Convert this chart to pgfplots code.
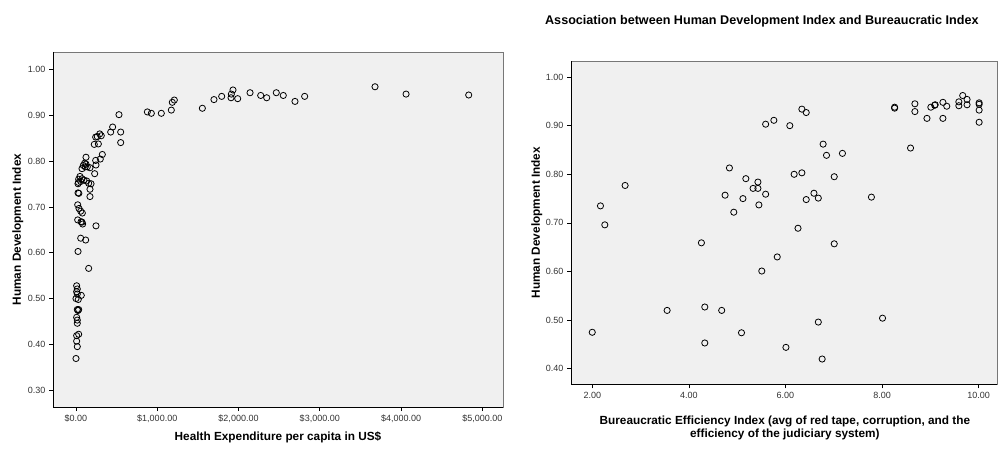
\documentclass[border=0pt]{standalone}
\usepackage{pgfplots}
\pgfplotsset{compat=1.18}
\usepackage{fontspec}
\setmainfont{Liberation Sans}
\definecolor{bgc}{HTML}{F0F0F0}
\definecolor{bord}{HTML}{777777}
\definecolor{tlab}{HTML}{333333}
\pgfplotsset{
  spssstyle/.style={
    scale only axis,
    axis background/.style={fill=bgc},
    axis line style={draw=bord, line width=0.8pt},
    tick align=outside,
    xtick pos=bottom, ytick pos=left,
    major tick length=4pt,
    every tick/.style={black, line width=0.7pt},
    tick label style={font=\fontsize{9}{10.5}\selectfont, text=tlab},
    label style={font=\fontsize{11.8}{13.5}\selectfont\bfseries},
    after end axis/.code={\draw[black, line width=0.9pt] (rel axis cs:0,1) -- (rel axis cs:0,0) -- (rel axis cs:1,0);},
    clip=false,
  },
  pts/.style={only marks, mark=o, black, mark size=3.1pt, mark options={line width=0.8pt}},
}
\begin{document}
\begin{tikzpicture}[x=1pt,y=1pt]
\useasboundingbox (0,0) rectangle (998,448);
% ---------- left ----------
\begin{axis}[spssstyle,
  at={(53pt,41pt)}, anchor=south west,
  width=450pt, height=355pt,
  xmin=-283, xmax=5255, ymin=0.263, ymax=1.039,
  xtick={0,1000,2000,3000,4000,5000},
  xticklabels={{\$0.00},{\$1,000.00},{\$2,000.00},{\$3,000.00},{\$4,000.00},{\$5,000.00}},
  ytick={0.3,0.4,0.5,0.6,0.7,0.8,0.9,1.0},
  yticklabels={0.30,0.40,0.50,0.60,0.70,0.80,0.90,1.00},
  xlabel={Health Expenditure per capita in US\$},
  ylabel={Human Development Index},
  xlabel style={at={(axis description cs:0.5,-0.0845)}, anchor=center},
  ylabel style={at={(axis description cs:-0.078,0.5)}, anchor=center, rotate=0},
]
\addplot[pts] coordinates {
(529,0.902) (878,0.908) (927,0.905) (1050,0.905) (1173,0.912) (1185,0.929) (1210,0.934)
(1555,0.916) (1698,0.935) (1793,0.942) (1908,0.939) (1932,0.956) (1912,0.947) (1990,0.937)
(2142,0.950) (2273,0.944) (2347,0.939) (2465,0.950) (2551,0.944) (2695,0.931) (2814,0.942)
(3680,0.963) (4062,0.947) (4833,0.945)
(427,0.864) (550,0.864) (451,0.875) (550,0.841)
(292,0.860) (242,0.853) (262,0.854) (311,0.856) (225,0.837) (275,0.838)
(324,0.815) (299,0.805) (242,0.802) (246,0.792) (123,0.809)
(107,0.796) (90,0.791) (123,0.794) (139,0.788) (74,0.784) (114,0.788) (172,0.786)
(230,0.773) (49,0.767) (33,0.761) (74,0.762) (98,0.759) (132,0.757) (185,0.751) (156,0.752) (58,0.756)
(25,0.751) (30,0.754) (172,0.739) (172,0.723) (25,0.731) (35,0.730)
(21,0.705) (37,0.697) (58,0.691) (78,0.687)
(21,0.672) (62,0.668) (82,0.663) (74,0.667) (246,0.659)
(58,0.632) (119,0.628) (25,0.603) (156,0.566)
(8,0.528) (16,0.521) (8,0.515) (0,0.500) (28,0.498) (65,0.507) (16,0.510)
(16,0.476) (33,0.476) (25,0.474)
(8,0.459) (16,0.453) (16,0.446)
(8,0.419) (33,0.422) (8,0.407) (16,0.395) (0,0.369)
};
\end{axis}
% ---------- right ----------
\begin{axis}[spssstyle,
  at={(571pt,63.7pt)}, anchor=south west,
  width=426pt, height=323.3pt,
  xmin=1.56, xmax=10.38, ymin=0.368, ymax=1.033,
  xtick={2,4,6,8,10},
  xticklabels={2.00,4.00,6.00,8.00,10.00},
  ytick={0.4,0.5,0.6,0.7,0.8,0.9,1.0},
  yticklabels={0.40,0.50,0.60,0.70,0.80,0.90,1.00},
  xlabel={Bureaucratic Efficiency Index (avg of red tape, corruption, and the\\efficiency of the judiciary system)},
  ylabel={Human Development Index},
  xlabel style={at={(axis description cs:0.502,-0.135)}, anchor=center, align=center},
  ylabel style={at={(axis description cs:-0.08,0.5)}, anchor=center},
  title={Association between Human Development Index and Bureaucratic Index},
  title style={at={(axis description cs:0.448,1.105)}, anchor=center, font=\fontsize{12.6}{14}\selectfont\bfseries},
]
\addplot[pts] coordinates {
(5.59,0.903) (5.76,0.911) (4.84,0.813) (5.18,0.791) (5.43,0.784) (5.33,0.771) (5.43,0.771)
(4.75,0.757) (5.12,0.750) (5.59,0.759) (5.45,0.737) (4.93,0.722)
(2.68,0.777) (2.17,0.735) (2.26,0.696) (4.26,0.659) (5.83,0.630)
(5.51,0.601) (3.55,0.520) (4.33,0.527) (4.68,0.520) (2.00,0.475) (5.09,0.474) (4.33,0.453)
(7.01,0.657) (6.68,0.496) (8.01,0.504) (6.01,0.444) (6.76,0.420)
(8.26,0.936) (8.26,0.938) (8.68,0.945) (8.68,0.929) (8.93,0.915)
(9.01,0.938) (9.09,0.942) (9.10,0.943) (9.26,0.948) (9.34,0.940) (9.26,0.915)
(9.59,0.949) (9.59,0.941) (9.67,0.962) (9.76,0.954) (9.76,0.943)
(10.01,0.947) (10.01,0.944) (10.01,0.932) (10.01,0.907)
(8.59,0.854) (6.09,0.900) (6.34,0.934) (6.43,0.927)
(6.78,0.862) (6.85,0.839) (7.18,0.843) (6.18,0.800) (6.34,0.803) (7.01,0.795)
(6.59,0.761) (6.68,0.751) (6.43,0.748) (7.78,0.753) (6.26,0.689)
};
\end{axis}
\end{tikzpicture}
\end{document}
